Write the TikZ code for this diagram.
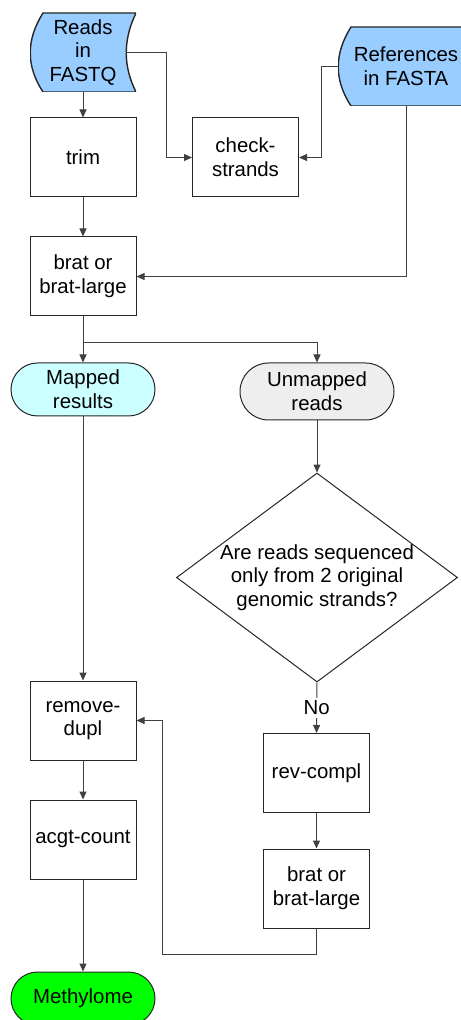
\documentclass[tikz,border=0pt]{standalone}
\usepackage{fontspec}
\setmainfont{Liberation Sans}
\usetikzlibrary{arrows.meta, positioning, shapes.geometric}

\definecolor{storeblue}{HTML}{99CCFF}
\definecolor{mappedcyan}{HTML}{CCFFFF}
\definecolor{unmappedgray}{HTML}{EEEEEE}
\definecolor{methylgreen}{HTML}{00FF00}

\begin{document}
\begin{tikzpicture}[
    x=0.5pt, y=-0.5pt,
    every node/.style={font=\fontsize{10.2}{11.8}\selectfont, align=center, text=black},
    stepbox/.style={rectangle, draw=black!85, line width=0.5pt, fill=white, minimum width=53pt, minimum height=39.5pt, inner sep=2pt},
    storage/.style={rectangle, minimum height=39.5pt, inner sep=1pt,
        path picture={\draw[draw=black!85, line width=0.7pt, fill=storeblue]
            ([xshift=6.5pt]path picture bounding box.north west) -- (path picture bounding box.north east)
            .. controls +(-6.5pt,-13.5pt) and +(-6.5pt,13pt) .. (path picture bounding box.south east)
            -- ([xshift=6.5pt]path picture bounding box.south west)
            .. controls +(-8.5pt,13pt) and +(-8.5pt,-13.5pt) .. ([xshift=6.5pt]path picture bounding box.north west) -- cycle;}},
    terminal/.style={rectangle, draw=black!85, line width=0.5pt, minimum width=72pt, minimum height=26.5pt, rounded corners=13.25pt, inner sep=1pt},
    decision/.style={diamond, draw=black!85, line width=0.5pt, fill=white, minimum width=140.5pt, minimum height=104.5pt, inner sep=0pt},
    arr/.style={draw=black!75, line width=0.5pt, -{Triangle[length=4pt, width=3.5pt]}},
    link/.style={draw=black!75, line width=0.5pt}
]
\useasboundingbox (0,0) rectangle (460,1020);

% inputs
\node[storage, minimum width=53pt] (reads) at (83,52.5) {Reads\\in\\FASTQ};
\node[storage, minimum width=68pt] (refs) at (406,66.5) {References\\in FASTA};

% left column
\node[stepbox] (trim) at (83,157.5) {trim};
\node[stepbox] (check) at (245.5,157.5) {check-\\strands};
\node[stepbox] (brat) at (83,276.5) {brat or\\brat-large};
\node[terminal, fill=mappedcyan] (mapped) at (83,389.5) {Mapped\\results};
\node[stepbox] (dupl) at (83,720.5) {remove-\\dupl};
\node[stepbox] (acgt) at (83,839.5) {acgt-count};
\node[terminal, fill=methylgreen] (methyl) at (83,998.5) {Methylome};

% right column
\node[terminal, fill=unmappedgray, minimum width=77pt, minimum height=28.5pt, rounded corners=14.25pt] (unmapped) at (317,391.5) {Unmapped\\reads};
\node[decision] (ask) at (317,577.5) {};
\node (askText) at (ask) {Are reads sequenced\\only from 2 original\\genomic strands?};
\node[stepbox] (revc) at (316.5,773) {rev-compl};
\node[stepbox] (brat2) at (316.5,888.5) {brat or\\brat-large};

% connectors
\draw[arr] (reads.south) -- (trim.north);
\draw[arr] ([xshift=-5pt]reads.east) -- ++(40,0) |- (check.west);
\draw[arr] (refs.west) -- ++(-16,0) |- (check.east);
\draw[arr] (refs.south) |- (brat.east);
\draw[arr] (trim.south) -- (brat.north);
\draw[arr] (brat.south) -- (mapped.north);
\draw[arr] (brat.south) -- ++(0,26) -| (unmapped.north);
\draw[arr] (unmapped.south) -- (ask.north);
\draw[arr] (ask.south) -- node[fill=white, inner sep=1.5pt] {No} (revc.north);
\draw[arr] (revc.south) -- (brat2.north);
\draw[arr] (brat2.south) -- ++(0,26) -| ([xshift=13pt]dupl.east) -- (dupl.east);
\draw[arr] (mapped.south) -- (dupl.north);
\draw[arr] (dupl.south) -- (acgt.north);
\draw[arr] (acgt.south) -- (methyl.north);
\end{tikzpicture}
\end{document}
